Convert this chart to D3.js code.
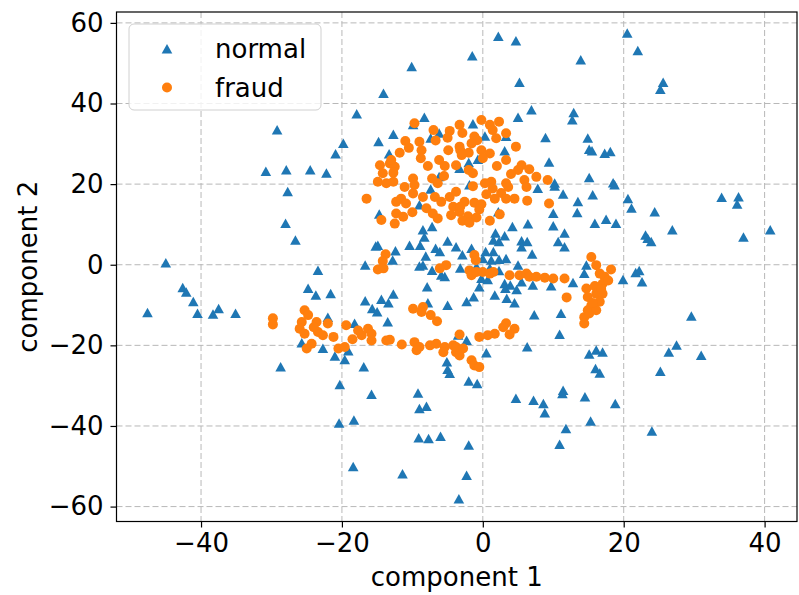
<!DOCTYPE html>
<html>
<head>
<meta charset="utf-8">
<script src="https://cdn.jsdelivr.net/npm/d3@7"></script>
<style>
  body { margin: 0; background: #fff; }
  svg { display: block; font-family: "DejaVu Sans", sans-serif; }
</style>
</head>
<body>
<svg id="chart" width="799" height="595"></svg>
<script>
// series names for the legend
var seriesNames = ["normal", "fraud"];

// tick values
var xTicks = [-40, -20, 0, 20, 40];
var yTicks = [-60, -40, -20, 0, 20, 40, 60];

// normal transactions, [component 1, component 2]
var normal = [
  [-29.2,33.4],[-30.8,23.1],[-27.9,23.5],[-10.1,49.1],[-14.1,42.5],[-17.9,37.4],[-8.3,36.5],[-9.9,34.7],
  [-12.7,32.3],[-6.2,32.6],[-7.4,31.4],[-19.8,30.1],[-14.8,30.5],[-20.9,27.5],[-13.3,27.5],[-24.5,23.5],
  [-22.2,22.7],[-6.2,21.8],[-3.3,23.9],[2.2,56.6],[4.7,55.5],[-1.5,51.8],[20.5,57.4],[13.9,50.8],
  [5.2,45.2],[6.9,38.4],[5.0,36.5],[12.9,37.7],[12.7,35.9],[-1.4,34.9],[0.3,31.9],[3.3,31.8],
  [8.9,31.5],[14.9,31.4],[3.1,28.2],[15.1,28.6],[15.5,28.2],[17.3,27.6],[18.1,28.0],[9.4,25.4],
  [-2.0,25.3],[-0.7,26.1],[15.1,21.6],[18.5,20.3],[10.2,20.2],[22.0,53.1],[25.6,45.2],[25.2,43.5],
  [-27.7,18.1],[-28.0,10.2],[-45.0,0.4],[-42.6,-5.7],[-42.1,-6.8],[-41.1,-9.2],[-37.5,-10.9],[-47.6,-11.9],
  [-40.5,-12.1],[-38.3,-12.3],[-35.1,-12.1],[-26.6,6.1],[-7.4,18.7],[-9.0,14.8],[-14.7,12.5],[-8.5,8.6],
  [-7.2,9.4],[-8.3,6.8],[-15.2,4.6],[-14.9,4.8],[-10.4,4.8],[-8.9,4.8],[-12.4,3.4],[-6.7,4.0],
  [-6.1,3.2],[-5.0,5.8],[-3.8,4.4],[-12.8,1.1],[-16.7,-0.1],[-8.1,2.1],[-8.5,-0.1],[-9.0,-0.4],
  [-7.2,-1.4],[-5.9,-2.6],[-5.4,-3.0],[-23.4,-1.4],[-24.8,-5.9],[-23.7,-7.6],[-21.6,-7.2],[-16.7,-9.0],
  [-14.4,-8.6],[-12.7,-7.3],[-13.4,-9.5],[-15.7,-10.9],[-15.0,-11.7],[-7.9,-5.5],[-7.8,-9.5],[-5.0,-10.1],
  [-22.0,-13.1],[-18.2,-14.6],[-13.5,-14.2],[-3.5,-17.5],[-22.7,-20.8],[-19.1,-21.4],[-25.7,-19.4],[-1.9,19.8],
  [7.8,18.9],[10.2,19.5],[11.4,17.5],[15.6,17.3],[18.7,19.8],[13.5,15.6],[20.6,16.4],[10.0,12.7],
  [13.4,12.9],[2.2,13.1],[4.2,9.4],[6.4,10.1],[10.0,9.6],[15.9,10.2],[17.5,11.2],[18.9,10.2],
  [1.8,7.8],[1.5,6.1],[2.3,5.7],[3.1,7.1],[5.5,5.9],[6.3,5.7],[11.6,7.8],[10.7,5.7],
  [11.6,4.4],[5.5,4.4],[7.0,2.6],[-1.6,4.0],[-2.9,2.4],[0.4,3.2],[1.5,3.2],[0.0,1.5],
  [1.2,1.1],[2.3,1.3],[3.3,1.5],[5.0,-0.1],[-3.2,-0.9],[-0.9,-0.5],[1.0,-0.9],[2.3,-1.5],
  [14.7,-0.1],[14.4,-2.2],[19.9,-3.7],[-0.2,-3.4],[-0.5,-5.5],[0.7,-3.7],[3.1,-4.7],[5.5,-4.3],
  [3.2,-5.9],[3.9,-5.1],[4.8,-6.2],[7.1,-5.1],[9.7,-5.3],[12.8,-4.5],[1.7,-7.6],[-2.3,-9.2],
  [-1.3,-8.0],[3.4,-8.4],[4.5,-9.5],[7.3,-12.5],[11.1,-12.1],[10.9,-17.3],[-2.3,-18.8],[6.3,-20.4],
  [16.1,-21.2],[17.0,-21.7],[21.1,14.0],[24.4,13.1],[26.9,8.6],[23.1,7.3],[23.4,6.5],[23.9,5.7],
  [33.9,16.7],[36.3,16.8],[36.1,15.0],[37.0,6.8],[40.8,8.6],[22.2,-1.5],[21.7,-2.0],[22.6,-4.3],
  [29.6,-12.8],[27.5,-20.0],[26.4,-21.7],[31.0,-22.5],[-28.7,-25.4],[-21.0,-22.7],[-19.6,-23.6],[-16.9,-25.4],
  [-20.3,-29.8],[-15.8,-32.2],[-9.2,-31.9],[-9.0,-35.7],[-8.0,-35.2],[-20.4,-39.3],[-18.3,-38.6],[-9.1,-43.0],
  [-7.7,-43.2],[-6.0,-42.6],[-5.1,-24.1],[-5.0,-26.0],[-4.7,-27.0],[-18.4,-50.1],[-11.4,-51.9],[-3.4,-58.1],
  [0.5,-21.9],[15.1,-22.2],[16.0,-25.8],[16.6,-26.9],[-2.0,-28.9],[-0.8,-29.5],[4.7,-33.2],[7.2,-33.7],
  [8.6,-34.5],[8.8,-36.8],[11.4,-31.2],[11.3,-32.0],[14.5,-32.8],[18.8,-34.5],[15.3,-38.8],[11.8,-40.7],
  [10.9,-44.6],[-2.0,-44.8],[-2.3,-52.3],[25.2,-26.5],[24.0,-41.3]
];

// fraud transactions, [component 1, component 2]
var fraud = [
  [-29.8,-13.3],[-29.8,-14.8],[-9.7,35.1],[-7.0,33.4],[-4.7,33.2],[-3.3,34.7],[-11.0,30.7],[-9.0,30.5],
  [-6.7,30.8],[-8.7,28.4],[-4.9,28.4],[-3.3,29.3],[-11.8,27.8],[-13.2,25.1],[-14.6,24.7],[-12.5,24.3],
  [-14.2,22.7],[-12.7,22.8],[-8.8,26.4],[-6.2,26.0],[-5.4,24.5],[-3.8,24.7],[-9.9,21.4],[-14.9,20.6],
  [-12.7,20.6],[-7.2,21.4],[-0.2,35.9],[1.0,34.7],[2.3,35.5],[1.4,33.4],[-2.9,32.7],[-1.2,31.8],
  [-0.8,30.9],[-1.6,30.1],[1.9,31.4],[3.3,32.6],[-0.2,28.4],[1.0,27.6],[-3.2,28.4],[-3.0,27.2],
  [0.0,26.4],[4.7,29.3],[3.3,26.0],[5.5,24.7],[5.0,23.5],[6.6,23.7],[7.6,21.8],[9.2,21.0],
  [-2.0,23.5],[-1.4,22.7],[1.2,20.6],[3.3,20.2],[5.9,21.0],[-16.5,16.4],[-13.7,20.2],[-11.1,19.3],
  [-9.7,19.8],[-6.4,20.2],[-9.9,17.7],[-8.5,16.8],[-12.3,15.6],[-11.6,16.4],[-10.9,15.2],[-6.8,16.8],
  [-5.9,15.6],[-4.7,16.8],[-4.2,14.4],[-3.3,13.1],[-4.5,12.3],[-7.1,12.7],[-6.4,11.5],[-12.3,12.7],
  [-11.3,11.9],[-14.4,11.1],[-12.5,10.2],[-13.8,2.6],[-14.2,0.9],[-14.9,-1.2],[-14.1,-0.9],[-5.2,-0.1],
  [-6.1,-0.9],[-9.9,-10.9],[-8.5,-10.5],[-8.7,-11.7],[-7.4,-12.5],[-6.5,-14.0],[-25.3,-11.3],[-24.8,-12.5],
  [-25.7,-14.2],[-26.0,-15.9],[-25.3,-17.1],[-23.6,-14.2],[-22.0,-14.6],[-23.4,-16.7],[-22.7,-17.5],[-21.2,-17.9],
  [-24.3,-19.6],[-25.0,-20.8],[-20.5,-20.8],[-19.4,-15.0],[-19.6,-20.4],[-17.7,-16.3],[-17.2,-17.5],[-16.3,-15.9],
  [-15.8,-17.1],[-15.8,-18.8],[-13.7,-18.8],[-13.2,-18.6],[-9.7,-19.2],[-9.0,-20.4],[-7.5,-20.0],[-6.6,-19.6],
  [-5.4,-20.4],[-4.2,-20.0],[-9.4,-21.2],[-5.6,-21.7],[-3.8,-21.7],[-3.8,18.1],[-1.4,19.5],[0.3,20.2],
  [1.4,18.9],[3.6,19.3],[6.2,19.3],[2.6,17.8],[1.7,16.4],[3.3,16.4],[4.5,16.4],[6.3,15.9],
  [-2.6,15.6],[-1.2,15.4],[-0.2,15.0],[-3.2,14.4],[-0.5,13.7],[2.4,12.5],[-2.1,12.0],[-0.9,11.7],
  [-2.9,10.9],[-1.9,10.4],[1.0,10.9],[9.4,15.2],[-1.2,2.4],[-1.0,1.1],[-1.9,-1.4],[-1.6,-2.6],
  [-0.9,-1.8],[0.0,-1.8],[1.0,-2.2],[1.5,-1.8],[3.8,-2.6],[5.2,-2.6],[6.2,-2.2],[6.6,-3.0],
  [7.6,-3.0],[8.8,-3.2],[10.0,-3.4],[11.6,-3.4],[11.9,-8.1],[15.4,1.9],[16.1,-0.1],[18.2,-1.2],
  [16.6,-2.2],[17.3,-3.0],[14.7,-5.9],[15.9,-5.3],[17.0,-4.7],[17.8,-3.9],[14.9,-8.0],[16.1,-7.2],
  [17.0,-7.2],[16.6,-9.2],[15.4,-10.1],[14.9,-11.3],[14.4,-13.0],[15.1,-12.1],[14.4,-14.6],[16.1,-11.3],
  [3.3,-14.5],[2.9,-15.5],[4.5,-15.9],[3.8,-17.3],[1.7,-17.1],[0.7,-17.5],[-0.5,-17.9],[-3.3,-17.3],
  [-3.8,-20.4],[-2.8,-20.8],[-3.3,-22.5],[-1.6,-23.7],[-1.2,-25.0],[-0.5,-25.4],
  [-13.0,26.0],[-10.5,29.0],[-7.8,24.5],[-5.0,31.5],[-2.0,27.8],[2.0,24.5],[4.0,22.5],[-8.0,14.0],
  [-10.0,13.0],[-5.5,22.0],[0.5,17.5],[16.8,-6.0],[15.6,-9.5],[-24.0,-15.5],[-18.5,-18.5],[-11.5,-19.8]
];

var blue = "#1f77b4", orange = "#ff7f0e";

var svg = d3.select("#chart"),
    width = +svg.attr("width"),
    height = +svg.attr("height");

var plot = { left: 116.5, top: 12, right: 797, bottom: 521.5 };

var x = d3.scaleLinear().domain([-52.0, 44.6]).range([plot.left, plot.right]);
var y = d3.scaleLinear().domain([-63.7, 62.7]).range([plot.bottom, plot.top]);

var fmt = d3.format("d");

// grid
var grid = svg.append("g")
    .attr("stroke", "#b8b8b8")
    .attr("stroke-width", 1)
    .attr("stroke-dasharray", "6,3");
grid.selectAll("line.vx")
  .data(xTicks).enter().append("line")
    .attr("x1", function(d) { return x(d); })
    .attr("x2", function(d) { return x(d); })
    .attr("y1", plot.top).attr("y2", plot.bottom);
grid.selectAll("line.hy")
  .data(yTicks).enter().append("line")
    .attr("y1", function(d) { return y(d); })
    .attr("y2", function(d) { return y(d); })
    .attr("x1", plot.left).attr("x2", plot.right);

// points
var tri = "M0,-5L5.3,4.5L-5.3,4.5Z";
svg.append("g").selectAll("path")
  .data(normal).enter().append("path")
    .attr("d", tri)
    .attr("transform", function(d) { return "translate(" + x(d[0]) + "," + y(d[1]) + ")"; })
    .attr("fill", blue);

svg.append("g").selectAll("circle")
  .data(fraud).enter().append("circle")
    .attr("cx", function(d) { return x(d[0]); })
    .attr("cy", function(d) { return y(d[1]); })
    .attr("r", 5)
    .attr("fill", orange);

// axes
var xAxis = svg.append("g")
    .attr("transform", "translate(0," + plot.bottom + ")")
    .call(d3.axisBottom(x).tickValues(xTicks).tickFormat(fmt).tickSize(6).tickPadding(6));
var yAxis = svg.append("g")
    .attr("transform", "translate(" + plot.left + ",0)")
    .call(d3.axisLeft(y).tickValues(yTicks).tickFormat(fmt).tickSize(6).tickPadding(7));

[xAxis, yAxis].forEach(function(a) {
  a.select(".domain").remove();
  a.selectAll("line").attr("stroke", "#000").attr("stroke-width", 1.2);
  a.selectAll("text")
    .attr("fill", "#000")
    .style("font-family", "DejaVu Sans")
    .style("font-size", "26px");
});

// frame
svg.append("rect")
    .attr("x", plot.left).attr("y", plot.top)
    .attr("width", plot.right - plot.left)
    .attr("height", plot.bottom - plot.top)
    .attr("fill", "none")
    .attr("stroke", "#000")
    .attr("stroke-width", 1.2);

// axis labels
svg.append("text")
    .attr("x", (plot.left + plot.right) / 2)
    .attr("y", 586)
    .attr("text-anchor", "middle")
    .style("font-size", "26px")
    .text("component 1");
svg.append("text")
    .attr("transform", "translate(37," + (plot.top + plot.bottom) / 2 + ") rotate(-90)")
    .attr("text-anchor", "middle")
    .style("font-size", "26px")
    .text("component 2");

// legend
var legend = svg.append("g");
legend.append("rect")
    .attr("x", 129).attr("y", 24)
    .attr("width", 192).attr("height", 86)
    .attr("rx", 5)
    .attr("fill", "#fff").attr("fill-opacity", 0.8)
    .attr("stroke", "#d0d0d0");
legend.append("path")
    .attr("d", tri)
    .attr("transform", "translate(167,49)")
    .attr("fill", blue);
legend.append("circle")
    .attr("cx", 167).attr("cy", 87.5).attr("r", 5)
    .attr("fill", orange);
legend.selectAll("text")
  .data(seriesNames).enter().append("text")
    .attr("x", 215)
    .attr("y", function(d, i) { return 49 + i * 38.5; })
    .attr("dy", "0.35em")
    .style("font-size", "26px")
    .text(function(d) { return d; });
</script>
</body>
</html>
